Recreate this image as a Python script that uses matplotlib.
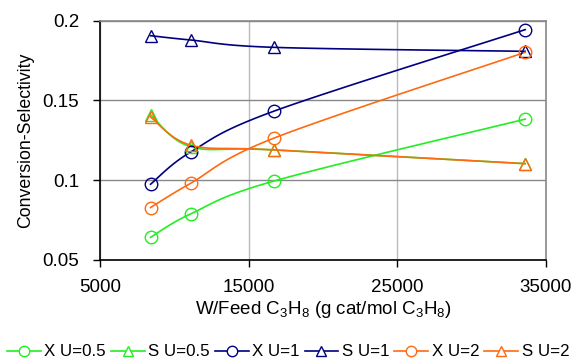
import numpy as np
import matplotlib
matplotlib.use("Agg")
import matplotlib.pyplot as plt
from matplotlib.lines import Line2D

plt.rcParams['font.family'] = ['Liberation Sans', 'DejaVu Sans']
plt.rcParams['mathtext.fontset'] = 'custom'
plt.rcParams['mathtext.rm'] = 'Liberation Sans'
plt.rcParams['mathtext.it'] = 'Liberation Sans'

wf = [8400, 11100, 16700, 33600]
x_u05 = [0.0642, 0.0789, 0.0995, 0.1383]
s_u05 = [0.1410, 0.1210, 0.1190, 0.1104]
x_u1 = [0.0975, 0.1177, 0.1433, 0.1944]
s_u1 = [0.1906, 0.1879, 0.1833, 0.1808]
x_u2 = [0.0829, 0.0981, 0.1264, 0.1802]
s_u2 = [0.1396, 0.1220, 0.1190, 0.1104]
labels = ['X U=0.5', 'S U=0.5', 'X U=1', 'S U=1', 'X U=2', 'S U=2']
xticks = [5000, 15000, 25000, 35000]
yticks = [0.05, 0.1, 0.15, 0.2]
ytick_labels = ['0.05', '0.1', '0.15', '0.2']

green = '#22EE22'
navy = '#000080'
orange = '#FF6A10'
series = [(x_u05, green, 'o'), (s_u05, green, '^'), (x_u1, navy, 'o'),
          (s_u1, navy, '^'), (x_u2, orange, 'o'), (s_u2, orange, '^')]


def smooth(xs, ys, n=40):
    # Excel-like smoothed line: cubic Bezier with Catmull-Rom control points
    P = np.column_stack([xs, ys]).astype(float)
    out = []
    m = len(P)
    for i in range(m - 1):
        p0 = P[i - 1] if i > 0 else P[i]
        p1 = P[i]
        p2 = P[i + 1]
        p3 = P[i + 2] if i + 2 < m else P[i + 1]
        c1 = p1 + (p2 - p0) / 6.0
        c2 = p2 - (p3 - p1) / 6.0
        t = np.linspace(0, 1, n)[:, None]
        seg = ((1 - t) ** 3) * p1 + 3 * ((1 - t) ** 2) * t * c1 + 3 * (1 - t) * t ** 2 * c2 + t ** 3 * p2
        out.append(seg)
    S = np.vstack(out)
    return S[:, 0], S[:, 1]


fig = plt.figure(figsize=(5.76, 3.64), dpi=100)
ax = fig.add_axes([100 / 576, 1 - 260 / 364, 446 / 576, 239.3 / 364])

handles = []
for (ys, c, mk), lab in zip(series, labels):
    sx, sy = smooth(wf, ys)
    ax.plot(sx, sy, color=c, lw=1.2, zorder=3)
    ax.plot(wf, ys, linestyle='none', marker=mk, markersize=9, markerfacecolor='none',
            markeredgecolor=c, markeredgewidth=1.0, zorder=4)
    handles.append(Line2D([], [], color=c, lw=1.2, marker=mk, markersize=7.5,
                          markerfacecolor='white', markeredgecolor=c, markeredgewidth=1.0))

ax.set_xlim(5000, 35000)
ax.set_ylim(0.05, 0.2)
ax.set_xticks(xticks)
ax.set_yticks(yticks)
ax.set_yticklabels(ytick_labels)
ax.grid(True, axis='y', color='#888888', lw=1.0)
ax.grid(True, axis='x', color='#BBBBBB', lw=1.0)
ax.set_axisbelow(True)
ax.tick_params(direction='out', length=5, width=1, labelsize=13.5, color='black')
ax.tick_params(axis='y', pad=10)
ax.tick_params(axis='x', pad=9)
for s in ['top', 'right']:
    ax.spines[s].set_color('#888888')
    ax.spines[s].set_linewidth(1.2)
for s in ['left', 'bottom']:
    ax.spines[s].set_color('black')
    ax.spines[s].set_linewidth(1.2)

ax.set_ylabel('Conversion-Selectivity', fontsize=12.8, labelpad=6)
ax.set_xlabel('W/Feed C$_3$H$_8$ (g cat/mol C$_3$H$_8$)', fontsize=13.5, labelpad=2)

fig.legend(handles=handles, labels=labels, loc='center', bbox_to_anchor=(0.5, 1 - 352 / 364),
           ncol=6, frameon=False, fontsize=12.2, handlelength=2.0, handletextpad=0.2,
           columnspacing=0.3, borderaxespad=0, borderpad=0)

fig.savefig('out.png', dpi=100)
